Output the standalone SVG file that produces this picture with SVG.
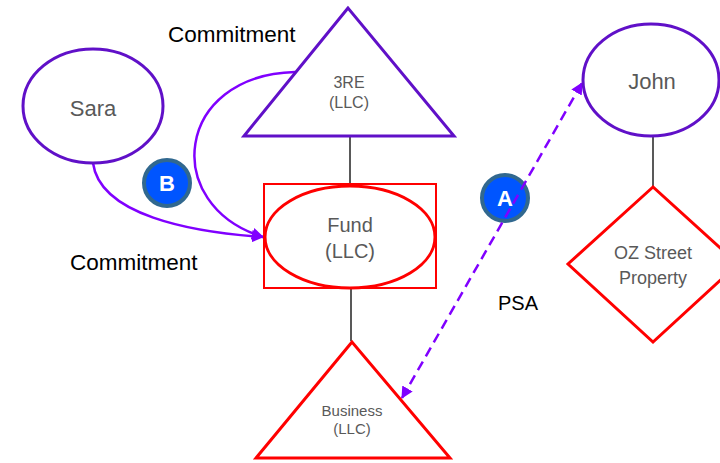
<svg xmlns="http://www.w3.org/2000/svg" width="720" height="463" viewBox="0 0 720 463">
  <defs>
    <marker id="arrow" viewBox="0 0 12 12" refX="11" refY="6" markerWidth="12" markerHeight="12" markerUnits="userSpaceOnUse" orient="auto-start-reverse">
      <path d="M0,0 L12,6 L0,12 z" fill="#8000FF"/>
    </marker>
  </defs>
  <style>
    .node-purple { fill: #FFFFFF; stroke: #6010C8; stroke-width: 3; }
    .node-red { fill: #FFFFFF; stroke: #FF0000; stroke-width: 3; }
    .label { font-family: "Liberation Sans", Arial, sans-serif; fill: #595959; text-anchor: middle; }
    .caption { font-family: "Liberation Sans", Arial, sans-serif; fill: #000000; font-size: 22.5px; }
    .caption.short { font-size: 20px; }
    .tie { stroke: #595959; stroke-width: 2; fill: none; }
    .flow { stroke: #8000FF; stroke-width: 2.5; fill: none; }
    .badge { fill: #0055FF; stroke: #31688F; stroke-width: 4; }
    .badge-text { font-family: "Liberation Sans", Arial, sans-serif; font-weight: bold; fill: #FFFFFF; font-size: 22px; text-anchor: middle; }
  </style>

  <rect width="720" height="463" fill="#FFFFFF"/>

  <!-- badges sit under the connectors -->
  <g id="badge-b">
    <circle class="badge" cx="167" cy="183" r="23"/>
    <text class="badge-text" x="167" y="191">B</text>
  </g>
  <g id="badge-a">
    <circle class="badge" cx="505" cy="198" r="23"/>
    <text class="badge-text" x="505" y="206">A</text>
  </g>

  <!-- connectors -->
  <g id="connectors">
    <line class="tie" x1="350" y1="136" x2="350" y2="184"/>
    <line class="tie" x1="351" y1="288" x2="351" y2="341"/>
    <line class="tie" x1="653" y1="136" x2="653" y2="187"/>
    <path class="flow" d="M93,163 C100,215 190,232 263,237" marker-end="url(#arrow)"/>
    <path class="flow" d="M295,72 C175,75 160,205 263,237" marker-end="url(#arrow)"/>
    <line class="flow" x1="402" y1="398" x2="582" y2="83" stroke-dasharray="10 6" marker-start="url(#arrow)" marker-end="url(#arrow)"/>
  </g>

  <!-- Sara -->
  <g id="sara">
    <ellipse class="node-purple" cx="93" cy="106" rx="70" ry="57"/>
    <text class="label" x="93" y="116" font-size="22">Sara</text>
  </g>

  <!-- 3RE -->
  <g id="three-re">
    <polygon class="node-purple" points="348,8 244,136 454,136"/>
    <text class="label" x="349" y="88" font-size="16">3RE</text>
    <text class="label" x="349" y="108" font-size="16">(LLC)</text>
  </g>

  <!-- Fund -->
  <g id="fund">
    <rect x="264" y="184" width="172" height="104" fill="#FFFFFF" stroke="#FF0000" stroke-width="2"/>
    <ellipse cx="350" cy="237" rx="85" ry="51" fill="none" stroke="#FF0000" stroke-width="3"/>
    <text class="label" x="350" y="232" font-size="20">Fund</text>
    <text class="label" x="350" y="258" font-size="20">(LLC)</text>
  </g>

  <!-- Business -->
  <g id="business">
    <polygon class="node-red" points="352,342 256,458 450,458"/>
    <text class="label" x="352" y="416" font-size="15">Business</text>
    <text class="label" x="352" y="434" font-size="15">(LLC)</text>
  </g>

  <!-- John -->
  <g id="john">
    <ellipse class="node-purple" cx="651" cy="80" rx="68" ry="56"/>
    <text class="label" x="652" y="89" font-size="22">John</text>
  </g>

  <!-- OZ Street Property -->
  <g id="oz-property">
    <polygon class="node-red" points="653,187 568,264 653,342 738,264"/>
    <text class="label" x="653" y="259" font-size="18">OZ Street</text>
    <text class="label" x="653" y="284" font-size="18">Property</text>
  </g>

  <!-- captions -->
  <g id="captions">
    <text class="caption" x="168" y="42">Commitment</text>
    <text class="caption" x="70" y="270">Commitment</text>
    <text class="caption short" x="498" y="310">PSA</text>
  </g>
</svg>
